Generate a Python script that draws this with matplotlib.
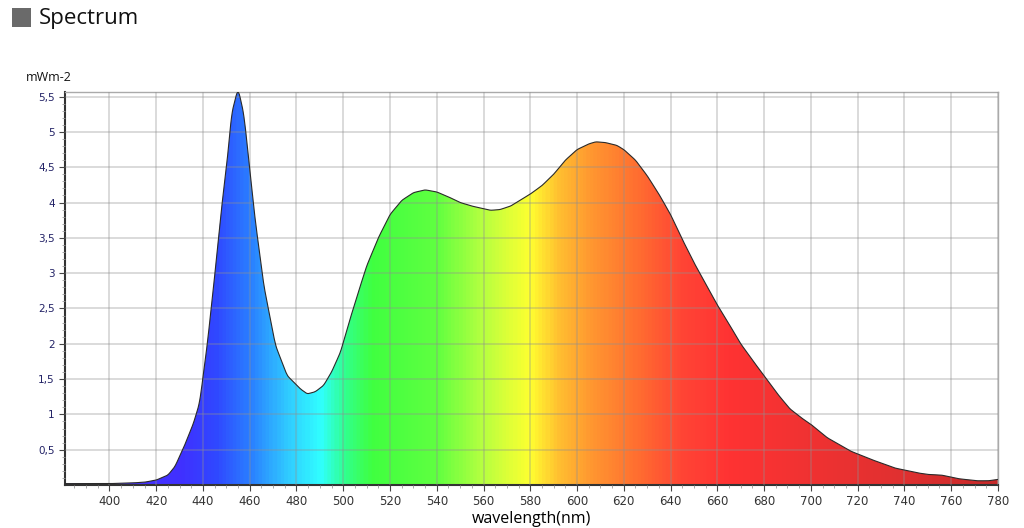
import numpy as np
import matplotlib
matplotlib.use("Agg")
import matplotlib.pyplot as plt
from matplotlib.colors import LinearSegmentedColormap

# spectrum (nm, mWm-2)
wavelength = [381, 390, 400, 410, 415, 420, 425, 428, 432, 436, 438.6, 441.8, 444.6, 447.5,
              450.8, 452.2, 455, 457.5, 459.2, 462.2, 466, 471, 476, 481.7, 484.6, 488,
              491.6, 495, 498.8, 503, 507.4, 510, 515, 520, 525, 530, 535, 540, 545, 550,
              555, 559, 563, 567, 571.6, 575, 580, 585, 590, 595, 600, 605, 608, 612, 617,
              620, 625, 630, 635, 640, 645, 650, 655, 660, 665, 670, 675, 681.5, 686, 691,
              696, 700, 707, 717, 726, 736, 746, 750, 756, 763, 771, 776, 780]
power = [0.02, 0.02, 0.02, 0.03, 0.04, 0.07, 0.14, 0.26, 0.55, 0.88, 1.17, 1.98, 2.83, 3.79,
         4.73, 5.25, 5.62, 5.25, 4.73, 3.79, 2.83, 1.98, 1.55, 1.36, 1.29, 1.32,
         1.41, 1.60, 1.88, 2.36, 2.83, 3.10, 3.50, 3.83, 4.03, 4.14, 4.18, 4.15, 4.08, 4.00,
         3.95, 3.92, 3.89, 3.90, 3.95, 4.02, 4.12, 4.24, 4.40, 4.60, 4.75, 4.83, 4.86, 4.85, 4.81,
         4.75, 4.60, 4.38, 4.12, 3.83, 3.48, 3.15, 2.85, 2.55, 2.28, 2.00, 1.77, 1.48, 1.28, 1.08,
         0.95, 0.86, 0.67, 0.48, 0.36, 0.24, 0.17, 0.15, 0.14, 0.09, 0.06, 0.06, 0.08]

xticks = list(range(400, 781, 20))
yticks = [0.5, 1, 1.5, 2, 2.5, 3, 3.5, 4, 4.5, 5, 5.5]
ylabels = ["0,5", "1", "1,5", "2", "2,5", "3", "3,5", "4", "4,5", "5", "5,5"]

# colour stops for the rainbow fill
stops = [(381, "#5030ff"), (430, "#4030ff"), (445, "#3048ff"), (460, "#2a80ff"),
         (475, "#30c8ff"), (490, "#30ffff"), (500, "#30ff90"), (512, "#40ff40"),
         (540, "#60ff40"), (560, "#b8ff40"), (580, "#ffff30"), (592, "#ffc030"),
         (605, "#ff9a30"), (625, "#ff7030"), (645, "#ff4535"), (665, "#ff3333"),
         (700, "#f03232"), (740, "#e03030"), (780, "#c82a2a")]
xmin, xmax = 381, 780
cmap = LinearSegmentedColormap.from_list(
    "spec", [((w - xmin) / (xmax - xmin), c) for w, c in stops])

fig = plt.figure(figsize=(10.24, 5.28), dpi=100)
ax = fig.add_axes([0.0635, 0.0814, 0.911, 0.745])

ax.set_xlim(xmin, xmax)
ax.set_ylim(0, 5.57)

# light smoothing of the read-off points for drawing
xs = np.linspace(xmin, xmax, 1200)
ys = np.interp(xs, wavelength, power)
k = np.ones(5) / 5
ys = np.convolve(np.pad(ys, 2, mode="edge"), k, mode="valid")

poly = ax.fill_between(xs, 0, ys, facecolor="none", edgecolor="none")
grad = np.linspace(0, 1, 800).reshape(1, -1)
im = ax.imshow(grad, cmap=cmap, aspect="auto", extent=[xmin, xmax, 0, 5.57],
               origin="lower", zorder=1)
im.set_clip_path(poly.get_paths()[0], transform=ax.transData)
ax.plot(xs, ys, color="#2a2a2a", lw=0.8, zorder=3)

ax.set_xticks(xticks)
ax.set_xticks(range(385, 781, 5), minor=True)
ax.set_yticks(yticks)
ax.set_yticklabels(ylabels)
ax.set_yticks(np.arange(0.1, 5.57, 0.1), minor=True)
ax.grid(True, which="major", color="#909090", alpha=0.42, lw=1.1, zorder=2)
ax.set_axisbelow(False)

ax.tick_params(axis="both", which="major", labelsize=7.5, colors="#444444",
               length=4, width=0.8)
ax.tick_params(axis="x", labelsize=8.5, labelcolor="#333333")
ax.tick_params(axis="y", labelcolor="#222266")
ax.tick_params(which="minor", length=2, width=0.6, colors="#999999")

for s in ["left", "bottom"]:
    ax.spines[s].set_color("#333333")
    ax.spines[s].set_linewidth(1.5)
for s in ["top", "right"]:
    ax.spines[s].set_color("#aaaaaa")
    ax.spines[s].set_linewidth(1.0)

ax.set_xlabel("wavelength(nm)", fontsize=11.5, family="Open Sans", labelpad=2)
fig.text(0.025, 0.846, "mWm-2", fontsize=9, family="Open Sans", color="#111111")

# header
fig.patches.append(plt.Rectangle((0.012, 0.948), 0.018, 0.037, transform=fig.transFigure,
                                 facecolor="#6a6a6a", edgecolor="none"))
fig.text(0.038, 0.965, "Spectrum", fontsize=16, family="Open Sans", va="center",
         color="#111111")

fig.savefig("out.png", dpi=100)
